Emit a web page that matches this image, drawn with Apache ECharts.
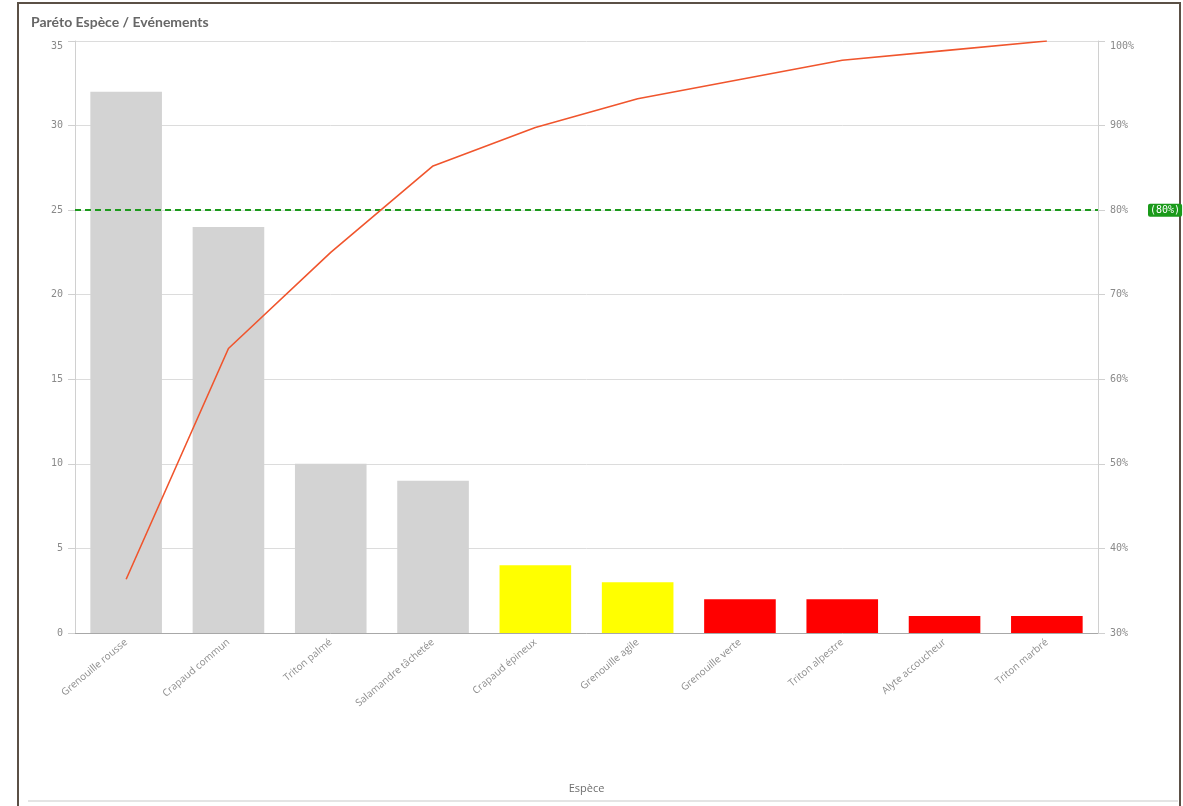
<!DOCTYPE html>
<html>
<head>
<meta charset="utf-8">
<title>Paréto Espèce / Evénements</title>
<script src="https://cdn.jsdelivr.net/npm/echarts@6/dist/echarts.min.js"></script>
<style>
  html, body { margin: 0; padding: 0; background: #ffffff; }
  #chart { width: 1183px; height: 806px; }
</style>
</head>
<body>
<div id="chart"></div>
<script>
// Species and number of recorded events, sorted descending
const species = [
  'Grenouille rousse', 'Crapaud commun', 'Triton palmé', 'Salamandre tâchetée',
  'Crapaud épineux', 'Grenouille agile', 'Grenouille verte', 'Triton alpestre',
  'Alyte accoucheur', 'Triton marbré'
];
const events = [32, 24, 10, 9, 4, 3, 2, 2, 1, 1];
// ABC class of each species
const abcClass = ['A', 'A', 'A', 'A', 'B', 'B', 'C', 'C', 'C', 'C'];

// Axis ticks
const countTicks = [0, 5, 10, 15, 20, 25, 30, 35];
const pctTicks = [30, 40, 50, 60, 70, 80, 90, 100];
const threshold = 80;

const classColor = { A: '#d3d3d3', B: '#ffff00', C: '#ff0000' };

// Cumulative share of events, in percent
const total = events.reduce((a, b) => a + b, 0);
let running = 0;
const cumulative = events.map(v => { running += v; return +(running / total * 100).toFixed(2); });

const monoFont = '"DejaVu Sans Mono", monospace';
const tickColor = '#8a8a8a';

// The topmost tick label is nudged down so it stays inside the panel
function tickLabel(maxValue, suffix) {
  return function (v) {
    const s = v + suffix;
    return v === maxValue ? '{top|' + s + '}' : s;
  };
}
const topRich = { top: { padding: [10, 0, 0, 0], fontFamily: monoFont, fontSize: 10, color: tickColor } };

const chart = echarts.init(document.getElementById('chart'), null, { renderer: 'canvas' });

chart.setOption({
  animation: false,
  backgroundColor: '#ffffff',
  title: {
    text: 'Paréto Espèce / Evénements',
    left: 26, top: 10,
    textStyle: { fontFamily: 'Lato', fontWeight: 700, fontSize: 14, color: '#676767' }
  },
  graphic: [
    { type: 'rect', shape: { x: 18, y: 3, width: 1162, height: 810 },
      style: { fill: 'none', stroke: '#5b5046', lineWidth: 2 }, silent: true },
    { type: 'line', shape: { x1: 28, y1: 801, x2: 1178, y2: 801 },
      style: { stroke: '#e4e4e4', lineWidth: 2 }, silent: true }
  ],
  grid: { left: 75, right: 85, top: 41, bottom: 173, containLabel: false },
  xAxis: {
    type: 'category',
    data: species,
    name: 'Espèce',
    nameLocation: 'middle',
    nameGap: 150,
    nameTextStyle: { fontFamily: '"Liberation Sans Narrow", "Open Sans", sans-serif', fontSize: 11, color: '#6e6e6e' },
    axisLine: { show: true, lineStyle: { color: '#a8a8a8', width: 1 } },
    axisTick: { show: false },
    axisLabel: { rotate: 40, fontFamily: '"Open Sans", sans-serif', fontSize: 10, color: '#8c8c8c', margin: 8, interval: 0 }
  },
  yAxis: [
    {
      type: 'value', min: countTicks[0], max: countTicks[countTicks.length - 1], interval: 5,
      position: 'left',
      axisLine: { show: true, lineStyle: { color: '#d0d0d0' } },
      axisTick: { show: true, length: 7, lineStyle: { color: '#d0d0d0' } },
      axisLabel: {
        formatter: tickLabel(countTicks[countTicks.length - 1], ''),
        rich: topRich,
        fontFamily: monoFont, fontSize: 10, color: tickColor, margin: 12
      },
      splitLine: { show: true, lineStyle: { color: '#dcdcdc', width: 1 } }
    },
    {
      type: 'value', min: pctTicks[0], max: pctTicks[pctTicks.length - 1], interval: 10,
      position: 'right',
      axisLine: { show: true, lineStyle: { color: '#d0d0d0' } },
      axisTick: { show: true, length: 7, lineStyle: { color: '#d0d0d0' } },
      axisLabel: {
        formatter: tickLabel(pctTicks[pctTicks.length - 1], '%'),
        rich: topRich,
        fontFamily: monoFont, fontSize: 10, color: tickColor, margin: 12
      },
      splitLine: { show: false }
    }
  ],
  series: [
    {
      type: 'bar',
      yAxisIndex: 0,
      barWidth: '70%',
      data: events.map((v, i) => ({ value: v, itemStyle: { color: classColor[abcClass[i]] } }))
    },
    {
      type: 'line',
      yAxisIndex: 1,
      data: cumulative,
      showSymbol: false,
      symbol: 'none',
      lineStyle: { color: '#f0552d', width: 1.6 },
      z: 5,
      markLine: {
        silent: true,
        symbol: 'none',
        lineStyle: { color: '#1c9a1c', type: [6, 4], width: 2 },
        label: {
          show: true,
          position: 'end',
          distance: 50,
          formatter: '(' + threshold + '%)',
          fontFamily: monoFont,
          fontSize: 10,
          color: '#ffffff',
          backgroundColor: '#1a9a1a',
          padding: [2, 2, 1, 2],
          borderRadius: 2
        },
        data: [{ yAxis: threshold }]
      }
    }
  ]
});
</script>
</body>
</html>
